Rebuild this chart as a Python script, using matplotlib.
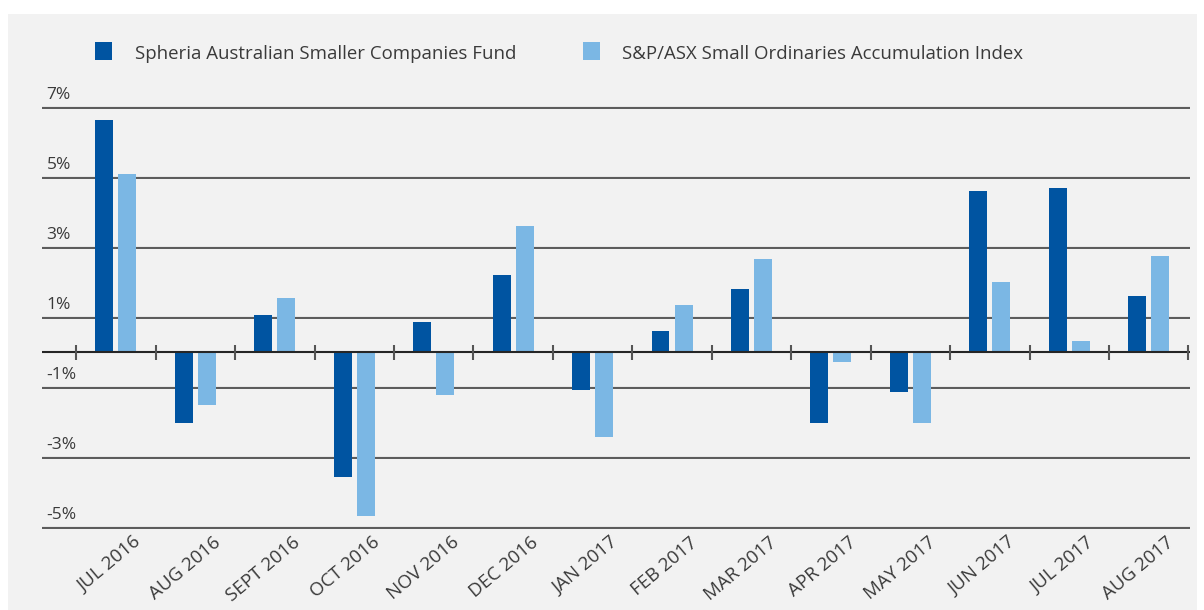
import numpy as np
import matplotlib.pyplot as plt
import matplotlib.transforms as mtransforms
from matplotlib.patches import Rectangle

plt.rcParams['font.family'] = ['Open Sans', 'DejaVu Sans']

# Data (monthly returns, %)
MONTHS = ["JUL 2016", "AUG 2016", "SEPT 2016", "OCT 2016", "NOV 2016", "DEC 2016",
          "JAN 2017", "FEB 2017", "MAR 2017", "APR 2017", "MAY 2017", "JUN 2017",
          "JUL 2017", "AUG 2017"]
FUND = [6.63, -2.03, 1.06, -3.57, 0.86, 2.20, -1.09, 0.60, 1.80, -2.03, -1.14, 4.60, 4.69, 1.60]
INDEX = [5.09, -1.51, 1.54, -4.69, -1.23, 3.60, -2.43, 1.34, 2.66, -0.29, -2.03, 2.00, 0.31, 2.74]
YTICKS = [7, 5, 3, 1, -1, -3, -5]

FUND_NAME = "Spheria Australian Smaller Companies Fund"
INDEX_NAME = "S&P/ASX Small Ordinaries Accumulation Index"

DARK = "#0054a1"
LIGHT = "#7bb7e4"
BG = "#f2f2f2"
TEXT = "#3a3a3a"

fig = plt.figure(figsize=(12.04, 6.10), dpi=100)
fig.patch.set_facecolor("white")
fig.patches.append(Rectangle((8 / 1204, 0), 1189 / 1204, 596 / 610,
                             transform=fig.transFigure, facecolor=BG,
                             edgecolor="none", zorder=-10))

ax = fig.add_axes([42 / 1204, 0.1303, 1148 / 1204, 0.700])
ax.set_facecolor("none")

x = np.arange(len(MONTHS))
w = 0.226
ax.bar(x - 0.145, FUND, width=w, color=DARK, zorder=3)
ax.bar(x + 0.145, INDEX, width=w, color=LIGHT, zorder=3)

# gridlines with labels sitting above them
for v in YTICKS:
    ax.axhline(v, color="#bdbdbd", lw=1.0, zorder=1)
    ax.axhline(v - 0.03, color="#5a5a5a", lw=1.4, zorder=1)
    ax.text(0.004, v + 0.12, f"{v}%", transform=ax.get_yaxis_transform(),
            ha="left", va="bottom", fontsize=12.5, color=TEXT)

# zero line with group-boundary ticks
ax.axhline(0, color="#262626", lw=1.5, zorder=4)
bounds = np.arange(len(MONTHS) + 1) - 0.5
ax.vlines(bounds, -0.23, 0.2, color="#555555", lw=1.5, zorder=4)

ax.set_xlim(-0.93, 13.52)
ax.set_ylim(-5.1, 7.1)
ax.set_yticks([])
ax.set_xticks(x)
ax.set_xticklabels(MONTHS, rotation=40, ha="right", rotation_mode="anchor",
                   fontsize=13.5, color=TEXT)
ax.tick_params(axis="x", length=0, pad=2)
offset = mtransforms.ScaledTranslation(0.17, 0, fig.dpi_scale_trans)
for lab in ax.get_xticklabels():
    lab.set_transform(lab.get_transform() + offset)
for s in ax.spines.values():
    s.set_visible(False)

# legend
fig.patches.append(Rectangle((95 / 1204, 1 - 60 / 610), 17 / 1204, 18 / 610,
                             transform=fig.transFigure, facecolor=DARK, edgecolor="none"))
fig.text(135 / 1204, 1 - 54 / 610, FUND_NAME, fontsize=13.4, color=TEXT, va="center")
fig.patches.append(Rectangle((583 / 1204, 1 - 60 / 610), 17 / 1204, 18 / 610,
                             transform=fig.transFigure, facecolor=LIGHT, edgecolor="none"))
fig.text(622 / 1204, 1 - 54 / 610, INDEX_NAME, fontsize=13.4, color=TEXT, va="center")

fig.savefig("out.png", dpi=100, facecolor=fig.get_facecolor())
